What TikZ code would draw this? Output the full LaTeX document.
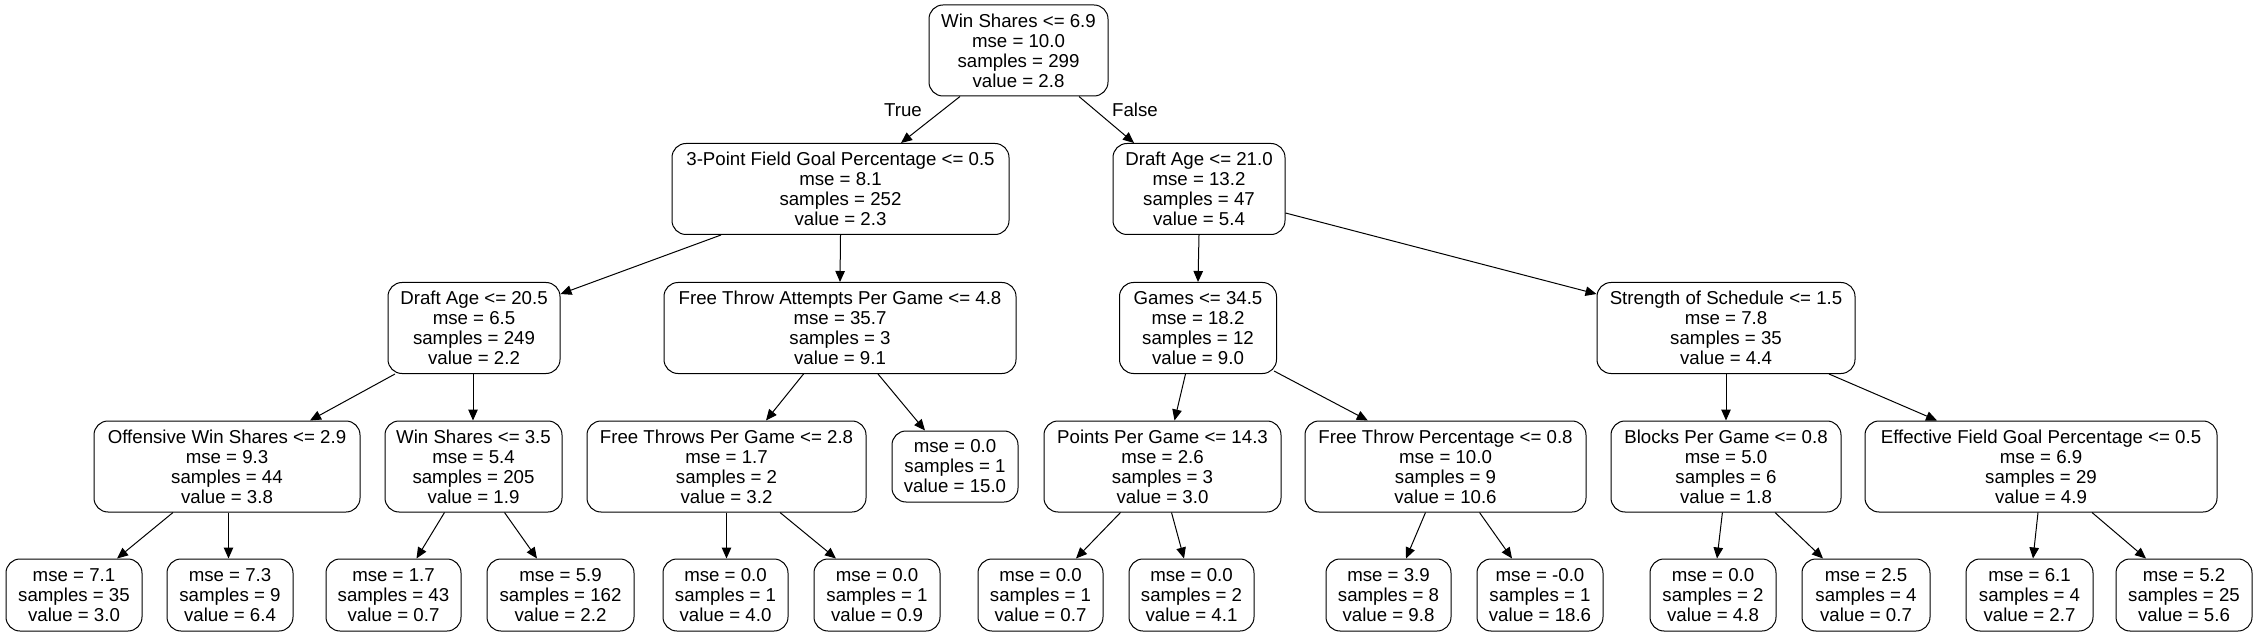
\documentclass[tikz,border=0pt]{standalone}
\usepackage{fontspec}
\setmainfont{Liberation Sans}
\usetikzlibrary{arrows.meta}

\begin{document}
\begin{tikzpicture}[x=1pt,y=-1pt,line width=1pt,>={Triangle[length=11pt,width=9.5pt]},
  every node/.style={font=\fontsize{18.67}{20}\selectfont},
  split/.style={draw,rounded corners=14pt,align=center,minimum height=91pt,inner xsep=11pt,inner ysep=0pt},
  leaf/.style={split,minimum height=72pt}]
  \useasboundingbox (0,0) rectangle (2259,636);
  % splits
  \node[split,minimum width=179pt] (root) at (1018.5,50.5) {Win Shares <= 6.9\\mse = 10.0\\samples = 299\\value = 2.8};
  \node[split,minimum width=337pt] (tp) at (840.5,189) {3-Point Field Goal Percentage <= 0.5\\mse = 8.1\\samples = 252\\value = 2.3};
  \node[split,minimum width=172pt] (da21) at (1199,189) {Draft Age <= 21.0\\mse = 13.2\\samples = 47\\value = 5.4};
  \node[split,minimum width=172pt] (da20) at (474,328) {Draft Age <= 20.5\\mse = 6.5\\samples = 249\\value = 2.2};
  \node[split,minimum width=352pt] (fta) at (840,328) {Free Throw Attempts Per Game <= 4.8\\mse = 35.7\\samples = 3\\value = 9.1};
  \node[split,minimum width=157pt] (games) at (1198,328) {Games <= 34.5\\mse = 18.2\\samples = 12\\value = 9.0};
  \node[split,minimum width=258pt] (sos) at (1726,328) {Strength of Schedule <= 1.5\\mse = 7.8\\samples = 35\\value = 4.4};
  \node[split,minimum width=266pt] (ows) at (227,466.5) {Offensive Win Shares <= 2.9\\mse = 9.3\\samples = 44\\value = 3.8};
  \node[split,minimum width=177pt] (ws35) at (473.5,466.5) {Win Shares <= 3.5\\mse = 5.4\\samples = 205\\value = 1.9};
  \node[split,minimum width=279pt] (ftpg) at (726.5,466.5) {Free Throws Per Game <= 2.8\\mse = 1.7\\samples = 2\\value = 3.2};
  \node[leaf,minimum width=126pt,minimum height=71pt] (leaf15) at (955,466.5) {mse = 0.0\\samples = 1\\value = 15.0};
  \node[split,minimum width=237pt] (ppg) at (1162.5,466.5) {Points Per Game <= 14.3\\mse = 2.6\\samples = 3\\value = 3.0};
  \node[split,minimum width=281pt] (ftp) at (1445.5,466.5) {Free Throw Percentage <= 0.8\\mse = 10.0\\samples = 9\\value = 10.6};
  \node[split,minimum width=230pt] (bpg) at (1726,466.5) {Blocks Per Game <= 0.8\\mse = 5.0\\samples = 6\\value = 1.8};
  \node[split,minimum width=352pt] (efg) at (2041,466.5) {Effective Field Goal Percentage <= 0.5\\mse = 6.9\\samples = 29\\value = 4.9};
  % leaves
  \foreach \name/\cx/\bw/\ms/\sm/\vl in {l1/74/136/7.1/35/3.0, l2/230/126/7.3/9/6.4, l3/393.5/135/1.7/43/0.7,
      l4/560.5/147/5.9/162/2.2, l5/725.5/125/0.0/1/4.0, l6/877/126/0.0/1/0.9, l7/1040.5/125/0.0/1/0.7,
      l8/1191.5/125/0.0/2/4.1, l9/1388.5/125/3.9/8/9.8, l10/1540/126/-0.0/1/18.6, l11/1713/126/0.0/2/4.8,
      l12/1866/128/2.5/4/0.7, l13/2029.5/127/6.1/4/2.7, l14/2184/136/5.2/25/5.6}
    \node[leaf,minimum width=\bw pt] (\name) at (\cx,595) {mse = \ms\\samples = \sm\\value = \vl};
  % edges
  \foreach \p/\ps/\c/\cs in {root/-58.5/tp/60.5, root/60.5/da21/-65, tp/0/fta/0, da21/0/games/0,
      da20/-79/ows/83, da20/-1/ws35/-0.5, fta/-36.5/ftpg/39.5, fta/38/leaf15/-30, ows/-54/l1/43,
      ows/1.5/l2/-1.5, ws35/-29/l3/23, ws35/31/l4/-23.5, ftpg/0/l5/1, ftpg/53.5/l6/-41, ppg/-42/l7/35.5,
      games/-12.5/ppg/12, sos/0/bpg/0, sos/103/efg/-104, ppg/9/l8/-7.5, ftp/-20/l9/17.5, ftp/34/l10/-28,
      bpg/-3.6/l11/4, bpg/49/l12/-43, efg/-3/l13/3.5, efg/51/l14/-38}
    \draw[->] ([xshift=\ps pt]\p.south) -- ([xshift=\cs pt]\c.north);
  \draw[->] ([xshift=-119.5pt]tp.south) -- ([yshift=-12pt]da20.north east);
  \draw[->] ([yshift=-24pt]da21.east) -- ([yshift=-12pt]sos.north west);
  \draw[->] ([shift={(-3pt,3pt)}]games.south east) -- ([xshift=-77.7pt]ftp.north);
  \node (ltrue) at (903,110) {True};
  \node (lfalse) at (1135,110) {False};
\end{tikzpicture}
\end{document}
